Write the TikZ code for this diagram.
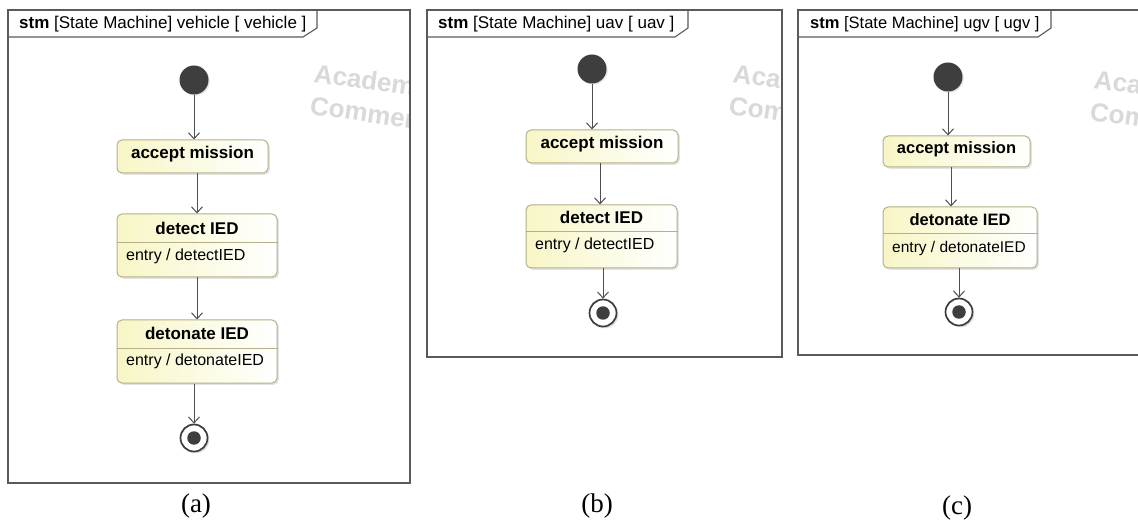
\documentclass[tikz,border=0pt]{standalone}
\usepackage{fontspec}
\setmainfont{Liberation Sans}
\newfontfamily\capfont{Liberation Serif}
\usetikzlibrary{arrows.meta,shadows}

\definecolor{frameC}{HTML}{5A5A5A}
\definecolor{stateB}{HTML}{B4B088}
\definecolor{stateY}{HTML}{F8F6C6}
\definecolor{arrowC}{HTML}{505050}
\definecolor{initC}{HTML}{3E3E3E}
\definecolor{wmC}{HTML}{D9D9D9}

\tikzset{
  frame/.style={draw=frameC, line width=1.1pt},
  statebox/.style={draw=stateB, line width=1pt, rounded corners=5pt,
    left color=stateY, right color=white, inner sep=0pt,
    drop shadow={shadow xshift=1.8pt, shadow yshift=-1.8pt, opacity=0.22}},
  stitle/.style={font=\fontsize{17}{20}\selectfont\bfseries, inner sep=0pt},
  sentry/.style={font=\fontsize{16}{19}\selectfont, inner sep=0pt, anchor=west},
  divider/.style={draw=stateB, line width=0.9pt},
  trans/.style={draw=arrowC, line width=1pt, -{Straight Barb[length=6pt,width=11pt]}},
  initst/.style={circle, fill=initC, minimum size=29pt, inner sep=0pt,
    drop shadow={shadow xshift=1.2pt, shadow yshift=-1.2pt, opacity=0.2}},
  finalst/.style={circle, draw=initC, fill=white, line width=1.7pt,
    minimum size=27pt, inner sep=0pt,
    drop shadow={shadow xshift=1.8pt, shadow yshift=-1.8pt, opacity=0.25}},
  finaldot/.style={circle, fill=initC, minimum size=13.5pt, inner sep=0pt},
  frametitle/.style={anchor=base west, inner sep=0pt, font=\fontsize{17}{20}\selectfont},
  watermark/.style={anchor=base west, inner sep=0pt, text=wmC,
    font=\fontsize{26}{30}\selectfont\bfseries, rotate=-8},
  caption/.style={font=\capfont\fontsize{27}{30}\selectfont, inner sep=0pt},
  % the third panel is drawn a little smaller
  smallstitle/.style={stitle, font=\fontsize{16.5}{19}\selectfont\bfseries},
  smallsentry/.style={sentry, font=\fontsize{15.5}{18}\selectfont},
  smalltitle/.style={frametitle, font=\fontsize{16.5}{19}\selectfont},
}

\begin{document}
\begin{tikzpicture}[x=1pt, y=-1pt]
\useasboundingbox (0,0) rectangle (1138,529);
\fill[white] (0,0) rectangle (1138,529);

% ---------------- (a) vehicle ----------------
\begin{scope}
  \clip (8,10) rectangle (410,483);
  \node[watermark] (wa1) at (313,82) {Academ};
  \node[watermark] (wa2) at (309,114) {Commer};
\end{scope}
\draw[frame] (8,10) rectangle (410,483);
\draw[frame] (8,37) -- (303,37) -- (317,28) -- (317,10);
\node[frametitle] (ta) at (19,29) {\bfseries stm\mdseries\ [State Machine] vehicle [ vehicle ]};

\node[initst] (ia) at (194,80) {};
\node[statebox, minimum width=151pt, minimum height=33pt] (acca) at (192.5,156.5) {};
\node[stitle] (acct) at (192.5,154) {accept mission};

\node[statebox, minimum width=160pt, minimum height=63pt] (deta) at (197,245.5) {};
\node[stitle] (dett) at (197,228) {detect IED};
\draw[divider] (deta.west |- 0,242) -- (deta.east |- 0,242);
\node[sentry] (dete) at (126,256) {entry / detectIED};

\node[statebox, minimum width=160pt, minimum height=63pt] (dtna) at (197,351.5) {};
\node[stitle] (dtnt) at (197,333) {detonate IED};
\draw[divider] (dtna.west |- 0,348) -- (dtna.east |- 0,348);
\node[sentry] (dtne) at (126,361) {entry / detonateIED};

\node[finalst] (fa) at (194,438) {};
\node[finaldot] (fad) at (fa) {};

\draw[trans] (ia) -- (ia |- acca.north);
\draw[trans] (acca.south -| deta.north) -- (deta.north);
\draw[trans] (deta.south) -- (dtna.north);
\draw[trans] (dtna.south -| fa) -- (fa.north);

\node[caption] (capa) at (196,506) {(a)};

% ---------------- (b) uav ----------------
\begin{scope}
  \clip (427,10) rectangle (782,357);
  \node[watermark] (wb1) at (732,82) {Aca};
  \node[watermark] (wb2) at (728,114) {Com};
\end{scope}
\draw[frame] (427,10) rectangle (782,357);
\draw[frame] (427,37) -- (675,37) -- (688,28) -- (688,10);
\node[frametitle] (tb) at (438,29) {\bfseries stm\mdseries\ [State Machine] uav [ uav ]};

\node[initst] (ib) at (592,69) {};
\node[statebox, minimum width=152pt, minimum height=33pt] (accb) at (602,146.5) {};
\node[stitle] (accbt) at (602,144) {accept mission};

\node[statebox, minimum width=151pt, minimum height=63pt] (detb) at (601.5,236.5) {};
\node[stitle] (detbt) at (601.5,217) {detect IED};
\draw[divider] (detb.west |- 0,231) -- (detb.east |- 0,231);
\node[sentry] (detbe) at (535,245) {entry / detectIED};

\node[finalst] (fb) at (603,313) {};
\node[finaldot] (fbd) at (fb) {};

\draw[trans] (ib) -- (ib |- accb.north);
\draw[trans] (accb.south -| 600,0) -- (detb.north -| 600,0);
\draw[trans] (detb.south -| fb) -- (fb.north);

\node[caption] (capb) at (597,506) {(b)};

% ---------------- (c) ugv ----------------
\begin{scope}
  \clip (798,10) rectangle (1138,355);
  \node[watermark] (wc1) at (1093,88) {Aca};
  \node[watermark] (wc2) at (1089,120) {Com};
\end{scope}
\draw[frame] (1140,10) -- (798,10) -- (798,355) -- (1140,355);
\draw[frame] (798,37) -- (1038,37) -- (1051,28) -- (1051,10);
\node[smalltitle] (tc) at (810,29) {\bfseries stm\mdseries\ [State Machine] ugv [ ugv ]};

\node[initst] (ic) at (948,77) {};
\node[statebox, minimum width=147pt, minimum height=31pt] (accc) at (956.5,151.5) {};
\node[smallstitle] (accct) at (956.5,149) {accept mission};

\node[statebox, minimum width=154pt, minimum height=61pt] (dtnc) at (960,237.5) {};
\node[smallstitle] (dtnct) at (960,220) {detonate IED};
\draw[divider] (dtnc.west |- 0,233) -- (dtnc.east |- 0,233);
\node[smallsentry] (dtnce) at (892,248) {entry / detonateIED};

\node[finalst] (fc) at (959,312) {};
\node[finaldot] (fcd) at (fc) {};

\draw[trans] (ic) -- (ic |- accc.north);
\draw[trans] (accc.south -| 951,0) -- (dtnc.north -| 951,0);
\draw[trans] (dtnc.south -| fc) -- (fc.north);

\node[caption] (capc) at (957,508) {(c)};
\end{tikzpicture}
\end{document}
